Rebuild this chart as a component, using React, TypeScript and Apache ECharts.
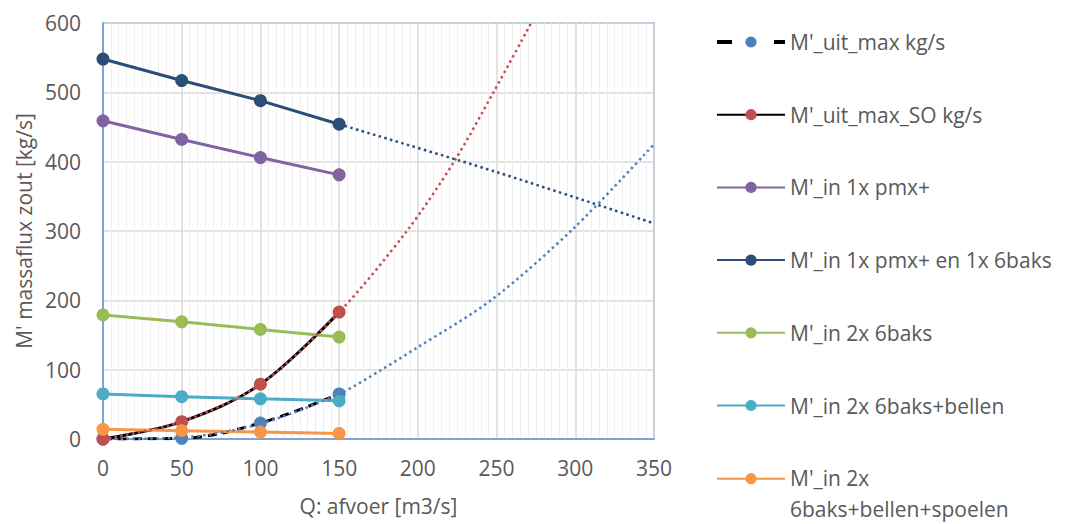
import React, { useEffect, useRef } from "react";
import * as echarts from "echarts";

// Q: afvoer [m3/s]
const Q = [0, 50, 100, 150];
// series values [kg/s]
const uitMax = [0, 1, 23, 65];
const uitMaxSO = [0, 25, 79, 183];
const in1xPmx = [459, 432, 406, 381];
const in1xPmx6baks = [548, 517, 488, 454];
const in2x6baks = [179, 169, 158, 147];
const in2x6baksBellen = [65, 61, 58, 55];
const in2x6baksBellenSpoelen = [14, 12, 10, 8];

// trend lines
const trendUitMaxQ = [0, 50, 100, 150, 177, 199, 247, 299, 350];
const trendUitMaxV = [0, 2, 22, 65, 100, 131, 201, 304, 425];
const trendSOQ = [0, 50, 100, 150, 193, 223, 248, 272];
const trendSOV = [0, 25, 79, 183, 300, 400, 500, 600];
const trendNavyQ = [150, 250, 350];
const trendNavyV = [454, 385, 311];

const NAMES = [
  "M'_uit_max kg/s",
  "M'_uit_max_SO kg/s",
  "M'_in 1x pmx+",
  "M'_in 1x pmx+ en 1x 6baks",
  "M'_in 2x 6baks",
  "M'_in 2x 6baks+bellen",
  "M'_in 2x 6baks+bellen+spoelen",
];

const FONT = "'Open Sans', sans-serif";
const TXT = "#595959";
const BORDER = "#6494d6";

const pair = (xs: number[], ys: number[]) => xs.map((x, i) => [x, ys[i]]);

export default function App() {
  const ref = useRef<HTMLDivElement>(null);
  useEffect(() => {
    document.body.style.margin = "0";
    const chart = echarts.init(ref.current!, null, { renderer: "svg" });
    const main = (
      name: string,
      ys: number[],
      color: string,
      lineColor?: string,
      lineType: any = "solid",
      smooth: number | boolean = false
    ) => ({
      name,
      type: "line",
      data: pair(Q, ys),
      symbol: "circle",
      symbolSize: 13,
      smooth,
      itemStyle: { color },
      lineStyle: { color: lineColor || color, width: 3, type: lineType },
      emphasis: { disabled: true },
      z: 2,
    });
    const trend = (xs: number[], ys: number[], color: string) => ({
      type: "line",
      data: pair(xs, ys),
      symbol: "none",
      smooth: 0.3,
      silent: true,
      lineStyle: { color, width: 2.5, type: [2.5, 3.4] },
      z: 3,
    });
    chart.setOption({
      animation: false,
      textStyle: { fontFamily: FONT },
      grid: {
        left: 103,
        right: 412,
        top: 23,
        bottom: 85,
        show: true,
        borderColor: BORDER,
        borderWidth: 1.5,
      },
      xAxis: {
        type: "value",
        min: 0,
        max: 350,
        interval: 50,
        name: "Q: afvoer [m3/s]",
        nameLocation: "middle",
        nameGap: 56,
        nameTextStyle: { color: TXT, fontSize: 21, fontFamily: FONT },
        axisLine: { show: true, lineStyle: { color: BORDER, width: 1.5 } },
        axisTick: { show: false },
        axisLabel: { color: TXT, fontSize: 21, fontFamily: FONT, margin: 18 },
        splitLine: { show: true, lineStyle: { color: "#d9d9d9", width: 1.5 } },
        minorTick: { show: false, splitNumber: 10 },
        minorSplitLine: { show: true, lineStyle: { color: "#efefef", width: 1 } },
      },
      yAxis: {
        type: "value",
        min: 0,
        max: 600,
        interval: 100,
        name: "M' massaflux zout [kg/s]",
        nameLocation: "middle",
        nameGap: 68,
        nameTextStyle: { color: TXT, fontSize: 21, fontFamily: FONT },
        axisLine: { show: true, lineStyle: { color: BORDER, width: 1.5 } },
        axisTick: { show: false },
        axisLabel: { color: TXT, fontSize: 21, fontFamily: FONT, margin: 22 },
        splitLine: { show: true, lineStyle: { color: "#d9d9d9", width: 1.5 } },
      },
      legend: {
        orient: "vertical",
        left: 715,
        top: 12,
        padding: 0,
        itemWidth: 68,
        itemHeight: 14,
        itemGap: 12.7,
        data: [
          { name: NAMES[0], lineStyle: { type: [15, 42], width: 4, color: "#000000" } },
          NAMES[1],
          NAMES[2],
          NAMES[3],
          NAMES[4],
          NAMES[5],
          NAMES[6],
        ],
        selectedMode: false,
        formatter: (name: string) =>
          name === NAMES[6] ? "{a|M'_in 2x}\n{b|6baks+bellen+spoelen}" : name,
        textStyle: {
          color: TXT,
          fontSize: 21,
          fontFamily: FONT,
          lineHeight: 60,
          rich: {
            a: { color: TXT, fontSize: 21, fontFamily: FONT, lineHeight: 60 },
            b: { color: TXT, fontSize: 21, fontFamily: FONT, lineHeight: 1 },
          },
        },
      },
      series: [
        main(NAMES[0], uitMax, "#4F81BD", "#000000", [9, 6], 0.35),
        main(NAMES[1], uitMaxSO, "#C0504D", "#000000", "solid", 0.35),
        main(NAMES[2], in1xPmx, "#8064A2"),
        main(NAMES[3], in1xPmx6baks, "#2C4D75"),
        main(NAMES[4], in2x6baks, "#9BBB59"),
        main(NAMES[5], in2x6baksBellen, "#4BACC6"),
        main(NAMES[6], in2x6baksBellenSpoelen, "#F79646"),
        trend(trendUitMaxQ, trendUitMaxV, "#4F81BD"),
        trend(trendSOQ, trendSOV, "#C0504D"),
        trend(trendNavyQ, trendNavyV, "#2C4D75"),
      ],
    });
    return () => chart.dispose();
  }, []);
  return <div ref={ref} style={{ width: 1066, height: 524 }} />;
}
